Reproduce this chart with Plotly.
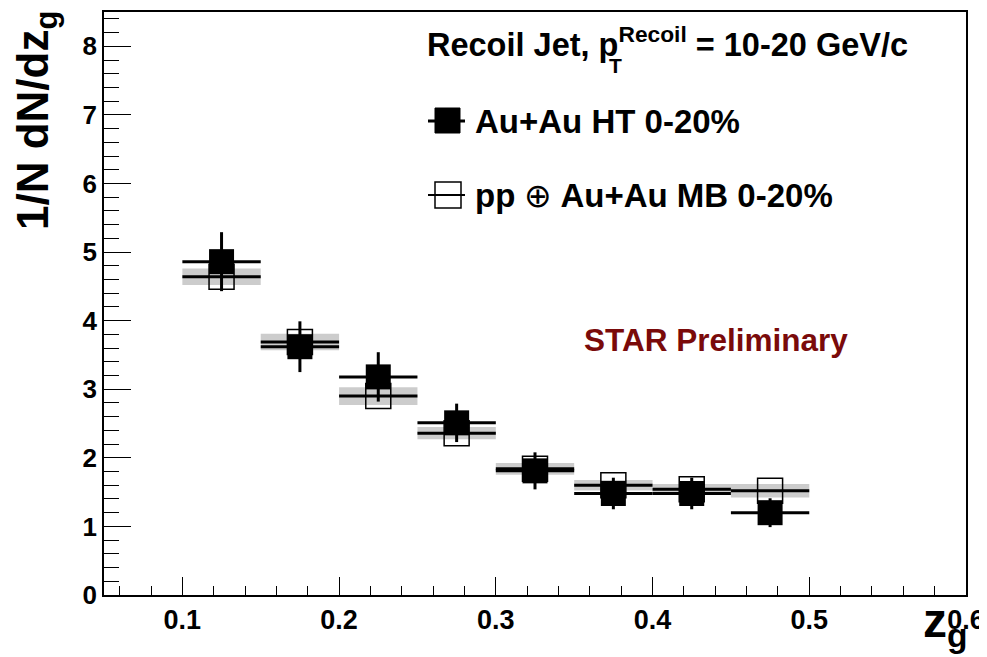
import plotly.graph_objects as go

# ---- data ----
zg_centers = [0.125, 0.175, 0.225, 0.275, 0.325, 0.375, 0.425, 0.475]
bin_half_width = [0.025] * 8
auau_ht = [4.86, 3.62, 3.18, 2.51, 1.81, 1.48, 1.48, 1.20]
auau_ht_err = [0.43, 0.37, 0.36, 0.28, 0.27, 0.23, 0.23, 0.21]
pp_emb = [4.64, 3.69, 2.90, 2.36, 1.84, 1.60, 1.54, 1.52]
pp_emb_sys = [0.12, 0.12, 0.13, 0.09, 0.085, 0.075, 0.08, 0.10]

x_ticks = [0.1, 0.2, 0.3, 0.4, 0.5, 0.6]
y_ticks = [0, 1, 2, 3, 4, 5, 6, 7, 8]

FONT = "Liberation Sans"
# the page body adds an 8px offset; the figure is sized so that the
# plotting frame lands at screen x 104..966, y 12..595
OFF = 8
W, H = 987 - OFF, 657 - OFF
L, R, T, B = 104 - OFF, 21, 12 - OFF, 62
PW, PH = W - L - R, H - T - B


def px(x):
    return (x - (L + OFF)) / PW


def py(y):
    return (H + OFF - B - y) / PH


fig = go.Figure()

# systematic band (grey boxes)
fig.add_trace(go.Bar(
    x=zg_centers,
    y=[2 * s for s in pp_emb_sys],
    base=[v - s for v, s in zip(pp_emb, pp_emb_sys)],
    width=[2 * w for w in bin_half_width],
    marker=dict(color="#cccccc", line=dict(width=0)),
    showlegend=False, hoverinfo="skip",
))

# pp (+) Au+Au MB
fig.add_trace(go.Scatter(
    x=zg_centers, y=pp_emb, mode="markers",
    marker=dict(symbol="square-open", size=25, color="black", line=dict(width=1.5, color="black")),
    error_x=dict(type="data", array=bin_half_width, thickness=3, width=0, color="black"),
    showlegend=False,
))

# Au+Au HT
fig.add_trace(go.Scatter(
    x=zg_centers, y=auau_ht, mode="markers",
    marker=dict(symbol="square", size=25, color="black"),
    error_x=dict(type="data", array=bin_half_width, thickness=3, width=0, color="black"),
    error_y=dict(type="data", array=auau_ht_err, thickness=3, width=0, color="black"),
    showlegend=False,
))

axis_common = dict(showline=True, linecolor="black", linewidth=1.5, mirror=True,
                   ticks="inside", tickcolor="black", tickwidth=1.2,
                   showgrid=False, zeroline=False, automargin=False)

fig.update_xaxes(range=[0.05, 0.6], tickvals=x_ticks, ticktext=[f"{v:.1f}" for v in x_ticks],
                 ticklen=18,
                 minor=dict(ticks="inside", ticklen=9, dtick=0.02, tick0=0.0, tickcolor="black", tickwidth=1.2,
                            showgrid=False),
                 tickfont=dict(family=FONT, size=27, color="black", weight="bold"),
                 **axis_common)
fig.update_yaxes(range=[0, 8.5], tickvals=y_ticks, ticklen=27,
                 minor=dict(ticks="inside", ticklen=15, dtick=0.2, tick0=0.0, tickcolor="black", tickwidth=1.2,
                            showgrid=False),
                 tickfont=dict(family=FONT, size=26, color="black", weight="bold"),
                 **axis_common)

annotations = [
    dict(text="1/N dN/dz<sub>g</sub>", textangle=-90, x=px(36), y=py(121), xref="paper", yref="paper",
         xanchor="center", yanchor="middle", showarrow=False,
         font=dict(family=FONT, size=44, color="black", weight="bold")),
    dict(text="z<sub>g</sub>", x=px(945), y=py(592), xref="paper", yref="paper",
         xanchor="center", yanchor="top", showarrow=False,
         font=dict(family=FONT, size=48, color="black", weight="bold")),
    dict(text="Recoil Jet, p<sup>Recoil</sup> = 10-20 GeV/c", x=px(425), y=py(42), xref="paper", yref="paper",
         xanchor="left", yanchor="middle", showarrow=False,
         font=dict(family=FONT, size=32.5, color="black", weight="bold")),
    dict(text="T", x=px(607), y=py(66), xref="paper", yref="paper",
         xanchor="left", yanchor="middle", showarrow=False,
         font=dict(family=FONT, size=21, color="black", weight="bold")),
    dict(text="Au+Au HT 0-20%", x=px(473), y=py(122), xref="paper", yref="paper",
         xanchor="left", yanchor="middle", showarrow=False,
         font=dict(family=FONT, size=33, color="black", weight="bold")),
    dict(text="pp <span style='font-weight:normal'>⊕</span> Au+Au MB 0-20%", x=px(473), y=py(195),
         xref="paper", yref="paper", xanchor="left", yanchor="middle", showarrow=False,
         font=dict(family=FONT, size=33, color="black", weight="bold")),
    dict(text="STAR Preliminary", x=px(582), y=py(340), xref="paper", yref="paper",
         xanchor="left", yanchor="middle", showarrow=False,
         font=dict(family=FONT, size=31.5, color="#7a0a0a", weight="bold")),
]

shapes = [
    dict(type="line", xref="paper", yref="paper", x0=px(428), x1=px(465), y0=py(121), y1=py(121),
         line=dict(color="black", width=3)),
    dict(type="rect", xref="paper", yref="paper", x0=px(435), x1=px(460), y0=py(133), y1=py(108),
         fillcolor="black", line=dict(color="black", width=1)),
    dict(type="line", xref="paper", yref="paper", x0=px(428), x1=px(465), y0=py(195), y1=py(195),
         line=dict(color="black", width=2)),
    dict(type="rect", xref="paper", yref="paper", x0=px(435), x1=px(461), y0=py(208), y1=py(182),
         fillcolor="rgba(0,0,0,0)", line=dict(color="black", width=1.5)),
]

fig.update_layout(
    width=W, height=H,
    margin=dict(l=L, r=R, t=T, b=B),
    paper_bgcolor="white", plot_bgcolor="white",
    barmode="overlay", showlegend=False,
    annotations=annotations, shapes=shapes,
)

fig.write_html("out.html")
